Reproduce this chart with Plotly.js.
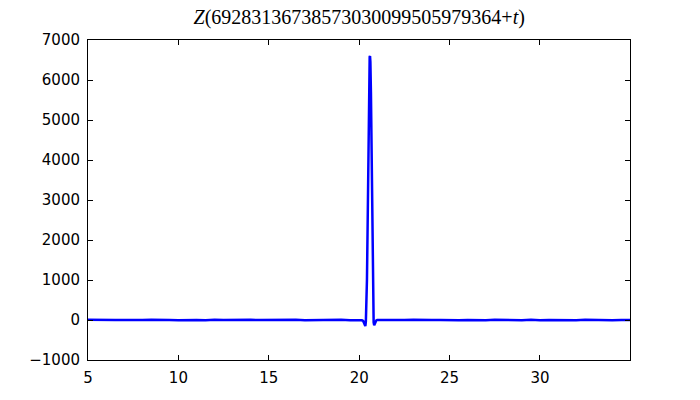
<!DOCTYPE html>
<html>
<head>
<meta charset="utf-8">
<script src="https://cdn.plot.ly/plotly-3.0.1.min.js"></script>
<style>html,body{margin:0;padding:0;background:#fff;}#chart{width:700px;height:400px;}</style>
</head>
<body>
<div id="chart"></div>
<script>
var tValues = [
  5.0, 5.5, 6.0, 6.5, 7.0, 7.5, 8.0, 8.5, 9.0, 9.5,
  10.0, 10.5, 11.0, 11.5, 12.0, 12.5, 13.0, 13.5, 14.0, 14.5,
  15.0, 15.5, 16.0, 16.5, 17.0, 17.5, 18.0, 18.5, 19.0, 19.5,
  20.0, 20.15, 20.22, 20.27, 20.31, 20.34, 20.37, 20.4, 20.43, 20.46,
  20.49, 20.52, 20.55, 20.58, 20.6, 20.62, 20.65, 20.68, 20.71, 20.74,
  20.77, 20.8, 20.83, 20.86, 20.9, 20.95,
  21.0, 21.5, 22.0, 22.5, 23.0, 23.5, 24.0, 24.5, 25.0, 25.5,
  26.0, 26.5, 27.0, 27.5, 28.0, 28.5, 29.0, 29.5, 30.0, 30.5,
  31.0, 31.5, 32.0, 32.5, 33.0, 33.5, 34.0, 34.5, 34.98
];
var zValues = [
  4, -3, 5, -2, 3, -6, 2, 6, -4, 3,
  -5, 4, 2, -8, 6, -3, 3, -4, 5, -2,
  4, -5, 3, 6, -4, 2, -3, 4, 6, -5,
  3, -8, -25, -70, -130, -150, -40, 300, 1000, 2100,
  3600, 5000, 6100, 6580, 6600, 6450, 5700, 4300, 2700, 1300,
  400, -60, -130, -100, -30, -8,
  3, -4, 5, -3, 4, -5, 3, -2, 6, -4,
  3, -5, -8, 4, -3, 6, -4, 7, -6, 3,
  -4, 5, -7, 4, -3, 6, -4, 3, 2
];
var xTicks = [5, 10, 15, 20, 25, 30];
var yTicks = [-1000, 0, 1000, 2000, 3000, 4000, 5000, 6000, 7000];
var yTickText = ['\u22121000', '0', '1000', '2000', '3000', '4000', '5000', '6000', '7000'];
var titleText = '<i>Z</i>(69283136738573030099505979364+<i>t</i>)';

var trace = {
  x: tValues, y: zValues, type: 'scatter', mode: 'lines',
  line: {color: '#0000ff', width: 2.5},
  hoverinfo: 'skip'
};
var axisCommon = {
  showgrid: false, zeroline: false, showline: true, linecolor: '#000', linewidth: 1,
  mirror: 'ticks', ticks: 'inside', ticklen: 5, tickwidth: 1, tickcolor: '#000',
  tickfont: {family: 'DejaVu Sans', size: 15, color: '#000'}
};
var layout = {
  width: 700, height: 400,
  margin: {l: 88, r: 70, t: 40, b: 40},
  paper_bgcolor: '#fff', plot_bgcolor: '#fff',
  showlegend: false,
  title: {text: titleText, x: 0.5132, xanchor: 'center', y: 0.975, yanchor: 'top',
          font: {family: 'Liberation Serif', size: 20, color: '#000'}},
  xaxis: Object.assign({}, axisCommon, {range: [5, 34.98], tickvals: xTicks, ticklabelstandoff: 4}),
  yaxis: Object.assign({}, axisCommon, {range: [-1000, 7000], tickvals: yTicks, ticktext: yTickText, ticklabelstandoff: 4})
};
Plotly.newPlot('chart', [trace], layout, {displayModeBar: false, staticPlot: true});
</script>
</body>
</html>
